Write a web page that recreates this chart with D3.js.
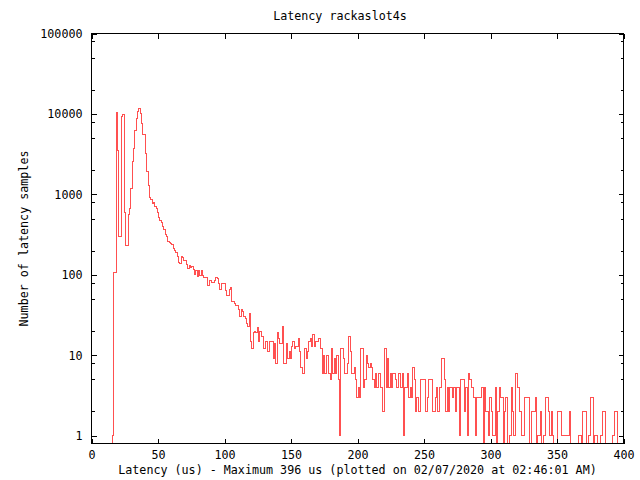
<!DOCTYPE html>
<html><head><meta charset="utf-8">
<script src="https://cdn.jsdelivr.net/npm/d3@7"></script>
<style>
body{margin:0;background:#fff}
svg{display:block}
text{font-family:"DejaVu Sans Mono","Liberation Mono",monospace;font-size:11.7px;fill:#000}
</style>
</head><body>
<svg id="chart" width="640" height="480"></svg>
<script>
const chartTitle = "Latency rackaslot4s";
const xLabel = "Latency (us) - Maximum 396 us (plotted on 02/07/2020 at 02:46:01 AM)";
const yLabel = "Number of latency samples";
const xTicks = [0, 50, 100, 150, 200, 250, 300, 350, 400];
const yTicks = [1, 10, 100, 1000, 10000, 100000];
const yMinorFactors = [2, 5, 8];
const xDomain = [0, 400];
const yDomain = [0.8, 100000];
const firstBinUs = 16;
// samples per 1-us bin, starting at firstBinUs (16 us .. 396 us)
const samples = [
  1, 106, 106, 10300, 3500, 300, 300, 9200, 9800, 600,
  232, 232, 560, 660, 1200, 2600, 3700, 6200, 8800, 10700,
  11600, 10000, 7500, 5500, 5500, 3200, 1900, 1300, 920, 860,
  780, 800, 700, 660, 600, 510, 480, 450, 400, 370,
  315, 300, 261, 250, 245, 240, 215, 200, 189, 171,
  142, 138, 171, 165, 152, 152, 136, 119, 130, 125,
  128, 117, 100, 113, 94, 112, 99, 112, 98, 93,
  93, 93, 74, 84, 84, 80, 80, 86, 92, 90,
  79, 65, 79, 79, 78, 64, 56, 56, 66, 69,
  47, 47, 44, 41, 41, 37, 30, 37, 35, 30,
  29, 25, 23, 33, 15, 12, 19, 20, 19, 22,
  15, 20, 17, 17, 12, 15, 15, 11, 15, 15,
  15, 9, 14, 8, 19, 16, 14, 14, 23, 8,
  8, 14, 9, 11, 9, 13, 15, 12, 13, 13,
  16, 11, 7, 6, 6, 12, 9, 11, 15, 16,
  13, 18, 13, 15, 15, 16, 16, 12, 6, 10,
  6, 10, 10, 6, 5, 12, 6, 9, 6, 10,
  5, 1, 12, 12, 9, 6, 6, 8, 17, 11,
  6, 6, 7, 5, 3, 4, 3, 12, 12, 4,
  5, 10, 8, 7, 8, 7, 5, 4, 6, 4,
  6, 6, 4, 2, 2, 12, 4, 9, 4, 6,
  4, 6, 6, 5, 4, 6, 6, 4, 6, 1,
  4, 4, 6, 3, 4, 3, 7, 5, 2, 3,
  2, 2, 5, 5, 5, 5, 2, 3, 5, 5,
  5, 2, 2, 3, 4, 2, 4, 4, 9, 9,
  5, 2, 4, 2, 4, 4, 3, 4, 2, 4,
  4, 1, 5, 5, 5, 2, 4, 1, 6, 5,
  4, 4, 3, 1, 3, 3, 3, 3, 4, 0,
  4, 2, 2, 1, 3, 2, 1, 1, 4, 0,
  2, 4, 3, 3, 0, 2, 3, 0, 0, 1,
  4, 2, 1, 6, 6, 4, 2, 2, 1, 1,
  3, 3, 3, 3, 0, 2, 2, 2, 3, 0,
  1, 1, 2, 0, 1, 1, 3, 3, 2, 1,
  2, 1, 0, 0, 0, 2, 2, 2, 1, 1,
  1, 1, 1, 1, 2, 0, 0, 0, 0, 0,
  0, 1, 1, 0, 2, 2, 2, 0, 1, 1,
  3, 3, 0, 1, 1, 0, 0, 1, 1, 2,
  2, 0, 0, 0, 0, 0, 1, 1, 2, 2
];

const svg = d3.select("#chart");
const pL = 91.5, pR = 623.5, pT = 33.5, pB = 443.5;

const x = d3.scaleLinear().domain(xDomain).range([pL, pR]);
const y = d3.scaleLog().domain(yDomain).range([pB, pT]).clamp(true);

// histogram steps (bin i spans i-0.5 .. i+0.5)
const pts = [{u: firstBinUs - 0.5, v: 0}];
samples.forEach((v, i) => pts.push({u: firstBinUs + i - 0.5, v}));
const lastU = firstBinUs + samples.length - 0.5;
pts.push({u: lastU, v: samples[samples.length - 1]});
pts.push({u: lastU, v: 0});

svg.append("defs").append("clipPath").attr("id", "plotclip")
  .append("rect").attr("x", pL).attr("y", pT).attr("width", pR - pL).attr("height", pB - pT);

const line = d3.line()
  .x(d => x(d.u))
  .y(d => y(d.v > 0 ? d.v : yDomain[0]))
  .curve(d3.curveStepAfter);

svg.append("path")
  .datum(pts)
  .attr("clip-path", "url(#plotclip)")
  .attr("d", line)
  .attr("fill", "none")
  .attr("stroke", "#ff5050")
  .attr("stroke-width", 1)
  .attr("shape-rendering", "crispEdges");

const yMinor = [];
yTicks.forEach(t => yMinorFactors.forEach(f => {
  const v = t * f / 10;
  if (v > yDomain[0] && v < yDomain[1]) yMinor.push(v);
}));

function styleAxis(g) {
  g.select(".domain").remove();
  g.selectAll("line").attr("stroke", "#000").attr("shape-rendering", "crispEdges");
  g.selectAll("text").attr("font-family", null).attr("font-size", null).attr("fill", "#000");
}

svg.append("g").attr("transform", `translate(0,${pB})`)
  .call(d3.axisBottom(x).tickValues(xTicks).tickFormat(d3.format("d")).tickSize(-5).tickPadding(7))
  .call(styleAxis);
svg.append("g").attr("transform", `translate(0,${pT})`)
  .call(d3.axisTop(x).tickValues(xTicks).tickFormat("").tickSize(-5))
  .call(styleAxis);
svg.append("g").attr("transform", `translate(${pL},0)`)
  .call(d3.axisLeft(y).tickValues(yTicks).tickFormat(d3.format("d")).tickSize(-5).tickPadding(9))
  .call(styleAxis);
svg.append("g").attr("transform", `translate(${pL},0)`)
  .call(d3.axisLeft(y).tickValues(yMinor).tickFormat("").tickSize(-3))
  .call(styleAxis);
svg.append("g").attr("transform", `translate(${pR},0)`)
  .call(d3.axisRight(y).tickValues(yTicks).tickFormat("").tickSize(-5))
  .call(styleAxis);
svg.append("g").attr("transform", `translate(${pR},0)`)
  .call(d3.axisRight(y).tickValues(yMinor).tickFormat("").tickSize(-3))
  .call(styleAxis);

svg.append("rect")
  .attr("x", pL).attr("y", pT).attr("width", pR - pL).attr("height", pB - pT)
  .attr("fill", "none").attr("stroke", "#000").attr("stroke-width", 1)
  .attr("shape-rendering", "crispEdges");

svg.append("text").attr("x", 340).attr("y", 20).attr("text-anchor", "middle").text(chartTitle);
svg.append("text").attr("x", (pL + pR) / 2).attr("y", 474).attr("text-anchor", "middle").text(xLabel);
svg.append("text")
  .attr("transform", `translate(28,${(pT + pB) / 2}) rotate(-90)`)
  .attr("text-anchor", "middle").text(yLabel);
</script>
</body></html>
